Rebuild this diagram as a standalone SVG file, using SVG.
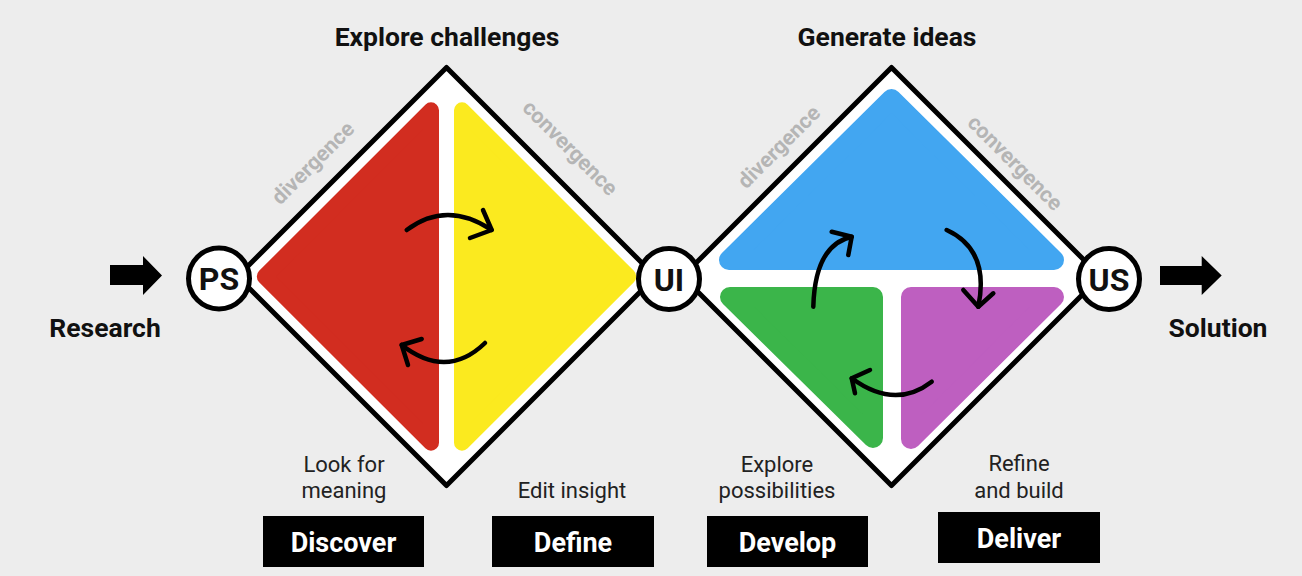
<svg xmlns="http://www.w3.org/2000/svg" width="1302" height="576" viewBox="0 0 1302 576">
<style>
.bg{fill:#ededed}
.outline{fill:#fff;stroke:#000;stroke-width:5;stroke-linejoin:round}
.rl{stroke-linejoin:round;stroke-width:16}
.rr{stroke-linejoin:round;stroke-width:20}
.red{fill:#d22d20;stroke:#d22d20}
.yellow{fill:#fbea1f;stroke:#fbea1f}
.blue{fill:#42a6f1;stroke:#42a6f1}
.green{fill:#3bb54a;stroke:#3bb54a}
.purple{fill:#be5fc0;stroke:#be5fc0}
.hub{fill:#fff;stroke:#000;stroke-width:5}
.hubt{font-family:Roboto,"Liberation Sans",sans-serif;font-weight:bold;font-size:32px;fill:#111;text-anchor:middle}
.title{font-family:Roboto,"Liberation Sans",sans-serif;font-weight:bold;font-size:26.5px;fill:#111;text-anchor:middle}
.grey{font-family:Roboto,"Liberation Sans",sans-serif;font-weight:bold;font-size:21.5px;fill:#b5b5b5;text-anchor:middle}
.sub{font-family:Roboto,"Liberation Sans",sans-serif;font-size:22px;fill:#222;text-anchor:middle}
.box{fill:#000}
.boxt{font-family:Roboto,"Liberation Sans",sans-serif;font-weight:bold;font-size:27px;fill:#fff;text-anchor:middle}
.curve{fill:none;stroke:#000;stroke-width:4.5;stroke-linecap:round;stroke-linejoin:round}
</style>
<rect class="bg" x="0" y="0" width="1302" height="576"/>

<g id="diamond-left">
  <polygon class="outline" points="446.5,67.5 655.5,276.5 446.5,485.5 237.5,276.5"/>
  <polygon class="red rl" points="431,110.3 264.8,276.5 431,442.7"/>
  <polygon class="yellow rl" points="462,110.3 628.2,276.5 462,442.7"/>
</g>

<g id="diamond-right">
  <polygon class="outline" points="891.5,67.5 1100.5,276.5 891.5,485.5 682.5,276.5"/>
  <polygon class="blue rr" points="891.5,99 729,260 1054,260"/>
  <polygon class="green rr" points="730,297 873,297 873,438"/>
  <polygon class="purple rr" points="911,297 1054,297 911,439"/>
</g>

<g id="hub-ps">
  <circle class="hub" cx="219" cy="278.5" r="30.5"/>
  <text class="hubt" x="219" y="290">PS</text>
</g>
<g id="hub-ui">
  <circle class="hub" cx="669" cy="279" r="30.5"/>
  <text class="hubt" x="669" y="290.5">UI</text>
</g>
<g id="hub-us">
  <circle class="hub" cx="1109" cy="279" r="30.5"/>
  <text class="hubt" x="1109" y="290.5">US</text>
</g>

<g id="titles">
  <text class="title" x="447" y="46">Explore challenges</text>
  <text class="title" x="887" y="46">Generate ideas</text>
</g>

<g id="phase-labels">
  <text class="grey" transform="translate(313,163) rotate(-45)" y="7">divergence</text>
  <text class="grey" transform="translate(570,148) rotate(45)" y="7">convergence</text>
  <text class="grey" transform="translate(779,147) rotate(-45)" y="7">divergence</text>
  <text class="grey" transform="translate(1015,163) rotate(45)" y="7">convergence</text>
</g>

<g id="research">
  <text class="title" x="105" y="337">Research</text>
</g>
<g id="solution">
  <text class="title" x="1218" y="337">Solution</text>
</g>

<g id="discover">
  <text class="sub" x="344" y="472">Look for</text>
  <text class="sub" x="344" y="498">meaning</text>
  <rect class="box" x="263" y="516" width="161" height="51"/>
  <text class="boxt" x="343.5" y="552">Discover</text>
</g>
<g id="define">
  <text class="sub" x="572" y="498">Edit insight</text>
  <rect class="box" x="492" y="516" width="162" height="51"/>
  <text class="boxt" x="573" y="552">Define</text>
</g>
<g id="develop">
  <text class="sub" x="777" y="472">Explore</text>
  <text class="sub" x="777" y="498">possibilities</text>
  <rect class="box" x="707" y="516" width="161" height="51"/>
  <text class="boxt" x="787.5" y="552">Develop</text>
</g>
<g id="deliver">
  <text class="sub" x="1019" y="471">Refine</text>
  <text class="sub" x="1019" y="498">and build</text>
  <rect class="box" x="938" y="512" width="162" height="51"/>
  <text class="boxt" x="1019" y="548">Deliver</text>
</g>

<g id="connectors">
  <polygon fill="#000" points="110,265 143,265 143,256 162,275.5 143,295 143,285 110,285"/>
  <polygon fill="#000" points="1160,266 1201.7,266 1201.7,256 1221.7,275.5 1201.7,295 1201.7,285 1160,285"/>
  <path class="curve" d="M406.7,230 Q446.7,200 491.7,230"/>
  <path class="curve" d="M483,210 L491.7,230 L470,238"/>
  <path class="curve" d="M485,343 Q446.7,380 401.7,345"/>
  <path class="curve" d="M408,365 L401.7,345 L421.7,339"/>
  <path class="curve" d="M813.3,306.7 Q815,245 851.7,236.7"/>
  <path class="curve" d="M831.7,231.7 L851.7,236.7 L848.3,255"/>
  <path class="curve" d="M946.7,230 Q990,250 978.3,306.7"/>
  <path class="curve" d="M963.3,290 L978.3,306.7 L993.3,293.3"/>
  <path class="curve" d="M931.7,381.7 Q895,410 851.7,378.3"/>
  <path class="curve" d="M870,370 L851.7,378.3 L855,393.3"/>
</g>
</svg>
